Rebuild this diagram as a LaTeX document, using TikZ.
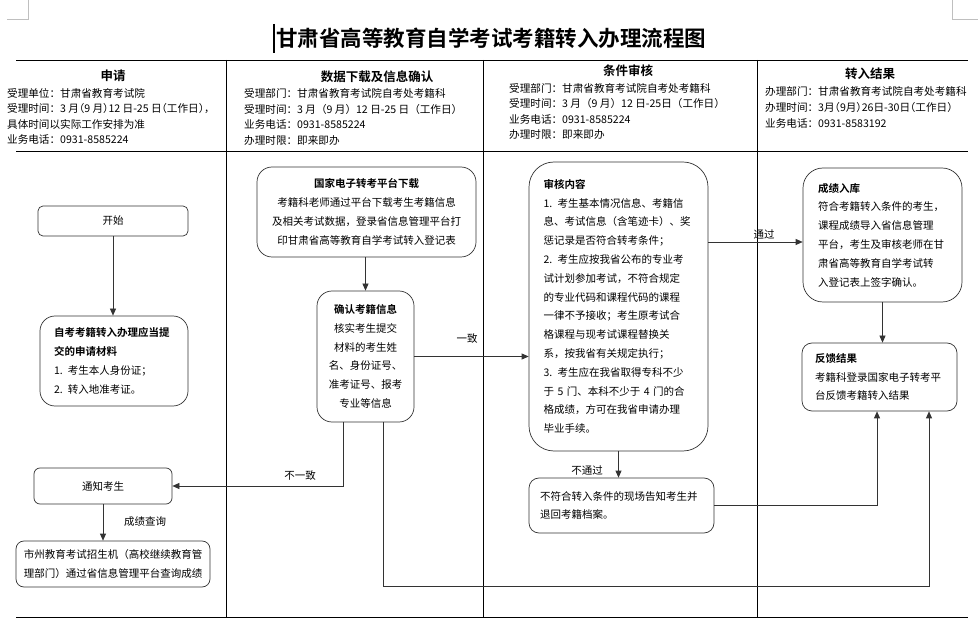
\documentclass[tikz,border=0pt]{standalone}
\usepackage{fontspec}
\setmainfont{Noto Sans CJK SC}[BoldFont={Noto Sans CJK SC Bold}]
\usetikzlibrary{arrows.meta,positioning}
\newcommand{\halfw}[1]{{\addfontfeatures{RawFeature=+halt}#1}}
\tikzset{basic/.style={draw=black!80,line width=0.7pt,inner sep=0pt,
                       font=\fontsize{10.5}{18.8}\selectfont}}
\tikzset{flow/.style={basic,rounded corners=#1},flow/.default=8pt}
\tikzset{head/.style={align=left,anchor=west,inner sep=0pt,
                      font=\fontsize{10.6}{15.6}\selectfont}}
\tikzset{colhead/.style={inner sep=0pt,font=\fontsize{12.5}{14}\selectfont\bfseries}}
\tikzset{lbl/.style={inner sep=0pt,font=\fontsize{10.5}{12}\selectfont}}
\tikzset{arr/.style={draw=black!80,line width=0.7pt,-{Triangle[length=7pt,width=6pt]}}}
\begin{document}
\begin{tikzpicture}[x=1pt,y=-1pt]
    \useasboundingbox (0,0) rectangle (978,628);

    % page marks and title
    \draw[black!25,line width=0.6pt] (7,19) -- (28,19) -- (28,0);
    \draw[black!25,line width=0.6pt] (978,19) -- (952,19) -- (952,0);
    \draw[line width=1.5pt] (274,24) -- (274,53);
    \node[inner sep=0pt,font=\fontsize{21.5}{24}\selectfont\bfseries] (title) at (491,38)
        {甘肃省高等教育自学考试考籍转入办理流程图};

    % table
    \draw[line width=0.8pt] (16,60) -- (968,60) (16,151) -- (968,151) (16,617) -- (968,617);
    \foreach \x in {226,483,757}
        \draw[line width=0.8pt] (\x,60) -- (\x,617);

    % column heads
    \node[colhead] (h1) at (113,76) {申请};
    \node[head] (t1) at (7,116.5) {受理单位：甘肃省教育考试院\\
        受理时间：\halfw{3 月（9 月）12 日-25 日（工作日），}\\
        具体时间以实际工作安排为准\\业务电话：0931-8585224};
    \node[colhead] (h2) at (377,77) {数据下载及信息确认};
    \node[head] (t2) at (244,117) {受理部门：甘肃省教育考试院自考处考籍科\\
        受理时间：3 月（9 月）12 日-25 日（工作日）\\
        业务电话：0931-8585224\\办理时限：即来即办};
    \node[colhead] (h3) at (628,71) {条件审核};
    \node[head] (t3) at (509,111.5) {受理部门：甘肃省教育考试院自考处考籍科\\
        受理时间：3 月（9 月）12 日-25日（工作日）\\
        业务电话：0931-8585224\\办理时限：即来即办};
    \node[colhead] (h4) at (870,74) {转入结果};
    \node[head] (t4) at (765,107.5) {办理部门：甘肃省教育考试院自考处考籍科\\
        办理时间：\halfw{3月（9月）26日-30日（工作日）}\\
        业务电话：0931-8583192};

    % boxes
    \node[flow=5pt,minimum width=150pt,minimum height=30pt] (start) at (113,221) {开始};
    \node[flow=15pt,minimum width=148pt,minimum height=90pt,text width=120pt,align=left]
        (material) at (114,361) {\textbf{自考考籍转入办理应当提}\\\textbf{交的申请材料}\\
        1. 考生本人身份证；\\2. 转入地准考证。};
    \node[flow=6pt,minimum width=138pt,minimum height=36pt] (notify) at (103,486) {通知考生};
    \node[flow=8pt,minimum width=194pt,minimum height=46pt,align=center] (city) at (113,564)
        {市州教育考试招生机（高校继续教育管\\理部门）通过省信息管理平台查询成绩};

    \node[flow=15pt,minimum width=219pt,minimum height=90pt,align=center] (download) at (366.5,212)
        {\textbf{国家电子转考平台下载}\\考籍科老师通过平台下载考生考籍信息\\
        及相关考试数据，登录省信息管理平台打\\印甘肃省高等教育自学考试转入登记表};
    \node[flow=15pt,minimum width=97pt,minimum height=131pt,align=center] (confirm) at (365.5,356.5)
        {\textbf{确认考籍信息}\\核实考生提交\\材料的考生姓\\名、身份证号、\\准考证号、报考\\专业等信息};

    \node[flow=25pt,minimum width=179pt,minimum height=289pt,text width=150pt,align=left]
        (review) at (618.5,306.5) {\textbf{审核内容}\\1. 考生基本情况信息、考籍信\\
        息、考试信息（含笔迹卡）、奖\\惩记录是否符合转考条件；\\
        2. 考生应按我省公布的专业考\\试计划参加考试，不符合规定\\
        的专业代码和课程代码的课程\\一律不予接收；考生原考试合\\
        格课程与现考试课程替换关\\系，按我省有关规定执行；\\
        3. 考生应在我省取得专科不少\\于 5 门、本科不少于 4 门的合\\
        格成绩，方可在我省申请办理\\毕业手续。};
    \node[flow=10pt,minimum width=185pt,minimum height=55pt,text width=163pt,align=left]
        (reject) at (621.5,505.5) {不符合转入条件的现场告知考生并\\退回考籍档案。};

    \node[flow=20pt,minimum width=159pt,minimum height=134pt,text width=129pt,align=left]
        (score) at (882.5,235) {\textbf{成绩入库}\\符合考籍转入条件的考生，\\
        课程成绩导入省信息管理\\平台，考生及审核老师在甘\\
        肃省高等教育自学考试转\\入登记表上签字确认。};
    \node[flow=10pt,minimum width=155pt,minimum height=68pt,text width=129pt,align=left]
        (feedback) at (879.5,377) {\textbf{反馈结果}\\考籍科登录国家电子转考平\\台反馈考籍转入结果};

    % labels
    \node[lbl] (yes) at (467,339) {一致};
    \node[lbl] (pass) at (764,234) {通过};
    \node[lbl] (fail) at (587,471) {不通过};
    \node[lbl] (no) at (300,476) {不一致};
    \node[lbl] (query) at (145,522) {成绩查询};

    % connectors
    \coordinate (loopR) at (929,586);
    \draw[arr] (start.south) -- (start.south |- material.north);
    \draw[arr] (notify.south) -- (notify.south |- city.north);
    \draw[arr] (download.south -| confirm.north) -- (confirm.north);
    \draw[arr] (confirm.east) -- (confirm.east -| review.west);
    \draw[arr] ([xshift=-22.5pt]confirm.south) |- (notify.east);
    \draw[arr] ([xshift=17.5pt]confirm.south) |- (loopR) -- (loopR |- feedback.south);
    \draw[arr] ([yshift=-7pt]review.east |- score.west) -- ([yshift=-7pt]score.west);
    \draw[arr] (review.south) -- (review.south |- reject.north);
    \draw[arr] (reject.east) -| ([xshift=-2.5pt]feedback.south);
    \draw[arr] (score.south) -- (score.south |- feedback.north);

\end{tikzpicture}
\end{document}
